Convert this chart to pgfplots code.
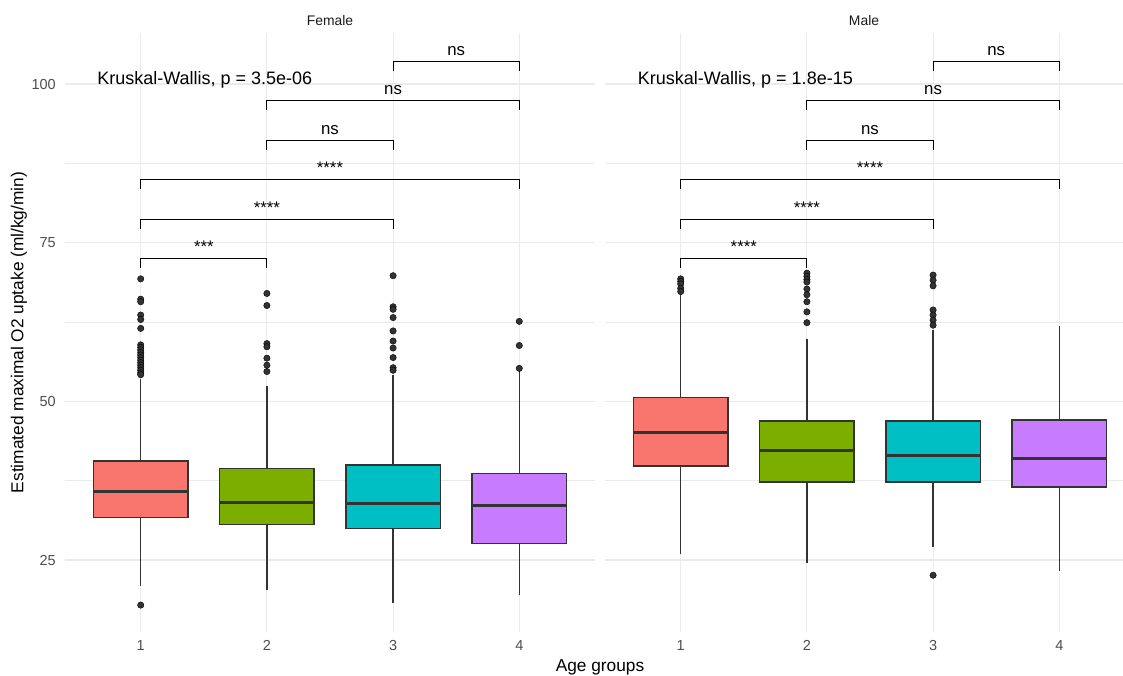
\documentclass[border=0pt]{standalone}
\usepackage{pgfplots}
\pgfplotsset{compat=1.18}
\usepgfplotslibrary{statistics}
\usepackage{fontspec}
\setmainfont{Liberation Sans}
\definecolor{c1}{HTML}{F8766D}
\definecolor{c2}{HTML}{7CAE00}
\definecolor{c3}{HTML}{00BFC4}
\definecolor{c4}{HTML}{C77CFF}
\definecolor{gridc}{HTML}{EBEBEB}
\definecolor{boxc}{HTML}{333333}
\definecolor{tickc}{HTML}{4D4D4D}
\newcommand{\bigf}{\fontsize{17.3}{20}\selectfont}
\newcommand{\kwf}{\fontsize{18}{21}\selectfont}
\newcommand{\labf}{\fontsize{16.8}{20}\selectfont}
\newcommand{\smallf}{\fontsize{14.5}{17}\selectfont}
\newcommand{\stripf}{\fontsize{13.9}{16}\selectfont}
\pgfplotsset{
  panel/.style={
    scale only axis, height=599pt,
    ymin=13.66, ymax=108.04, xmin=0.4,
    axis line style={draw=none}, major tick length=0pt, minor tick length=0pt,
    xtick={1,2,3,4}, ytick={25,50,75,100}, minor ytick={37.5,62.5,87.5},
    xmajorgrids, ymajorgrids, yminorgrids,
    major grid style={gridc, line width=1.1pt},
    minor grid style={gridc, line width=0.6pt},
    tick label style={font=\smallf, text=tickc},
    /pgf/number format/assume math mode=true,
    xticklabel style={anchor=base, yshift=-18pt, inner sep=0pt},
    yticklabel style={anchor=east, inner sep=0pt, xshift=-9pt},
    boxplot/draw direction=y,
    boxplot/box extend=0.75, boxplot/whisker extend=0,
    title style={at={(0.5,1)}, anchor=base, yshift=1pt, font=\stripf, text=black!90},
    clip=false,
    anchor=south west,
  },
  bx/.style={draw=boxc, line width=1.5pt, fill=#1,
    boxplot/every median/.style={line width=3.2pt, draw=boxc},
    boxplot/every whisker/.style={line width=1.5pt, draw=boxc},
    boxplot/every box/.style={line width=1.5pt, draw=boxc, fill=#1}},
  outl/.style={only marks, mark=*, mark size=3.2pt, mark options={fill=boxc, draw=none}},
  br/.style={black, line width=1pt},
}
\begin{document}
\begin{tikzpicture}
\useasboundingbox (0,0) rectangle (1123pt,675pt);
% ---------------- Female ----------------
\begin{axis}[panel, at={(65pt,43pt)}, width=530pt, xmax=4.6, title={Female},
  ylabel={Estimated maximal O2 uptake (ml/kg/min)},
  ylabel style={at={(axis description cs:-0.0868,0.5)}, anchor=center, font=\bigf}]
\addplot[bx=c1, boxplot prepared={draw position=1, median=35.8, upper quartile=40.6, lower quartile=31.7, upper whisker=53.6, lower whisker=20.9}] coordinates {};
\addplot[bx=c2, boxplot prepared={draw position=2, median=34.1, upper quartile=39.4, lower quartile=30.6, upper whisker=52.4, lower whisker=20.3}] coordinates {};
\addplot[bx=c3, boxplot prepared={draw position=3, median=33.9, upper quartile=40.0, lower quartile=30.0, upper whisker=54.2, lower whisker=18.3}] coordinates {};
\addplot[bx=c4, boxplot prepared={draw position=4, median=33.6, upper quartile=38.6, lower quartile=27.6, upper whisker=55.0, lower whisker=19.5}] coordinates {};
\addplot[outl] coordinates {
 (1,17.9) (1,69.3) (1,66.1) (1,65.7) (1,63.6) (1,62.9) (1,61.5)
 (1,58.9) (1,58.5) (1,58.1) (1,57.7) (1,57.3) (1,56.9) (1,56.5) (1,56.1) (1,55.7) (1,55.3) (1,54.9) (1,54.5) (1,54.2)
 (2,67.0) (2,65.1) (2,59.1) (2,58.6) (2,56.8) (2,55.7) (2,54.7)
 (3,69.8) (3,64.9) (3,64.5) (3,63.2) (3,61.1) (3,59.5) (3,58.4) (3,56.9) (3,55.3) (3,54.9)
 (4,62.6) (4,58.8) (4,55.2)
};
\addplot[br] coordinates {(1,71.0) (1,72.5) (2,72.5) (2,71.0)};
\addplot[br] coordinates {(1,77.1) (1,78.7) (3,78.7) (3,77.1)};
\addplot[br] coordinates {(1,83.4) (1,85.0) (4,85.0) (4,83.4)};
\addplot[br] coordinates {(2,89.6) (2,91.1) (3,91.1) (3,89.6)};
\addplot[br] coordinates {(2,95.9) (2,97.4) (4,97.4) (4,95.9)};
\addplot[br] coordinates {(3,102.0) (3,103.6) (4,103.6) (4,102.0)};
\node[anchor=base, yshift=6pt, font=\labf] at (axis cs:1.5,72.5) {***};
\node[anchor=base, yshift=6pt, font=\labf] at (axis cs:2,78.7) {****};
\node[anchor=base, yshift=6pt, font=\labf] at (axis cs:2.5,85.0) {****};
\node[anchor=base, yshift=6pt, font=\labf] at (axis cs:2.5,91.1) {ns};
\node[anchor=base, yshift=6pt, font=\labf] at (axis cs:3,97.4) {ns};
\node[anchor=base, yshift=6pt, font=\labf] at (axis cs:3.5,103.6) {ns};
\node[anchor=base west, inner sep=0pt, font=\kwf] at (axis cs:0.654,99.85) {Kruskal-Wallis, p = 3.5e-06};
\end{axis}
% ---------------- Male ----------------
\begin{axis}[panel, at={(605pt,43pt)}, width=518pt, xmax=4.505, title={Male}, yticklabels={}]
\addplot[bx=c1, boxplot prepared={draw position=1, median=45.1, upper quartile=50.6, lower quartile=39.8, upper whisker=66.7, lower whisker=25.9}] coordinates {};
\addplot[bx=c2, boxplot prepared={draw position=2, median=42.3, upper quartile=46.9, lower quartile=37.3, upper whisker=59.8, lower whisker=24.5}] coordinates {};
\addplot[bx=c3, boxplot prepared={draw position=3, median=41.5, upper quartile=46.9, lower quartile=37.3, upper whisker=61.2, lower whisker=27.1}] coordinates {};
\addplot[bx=c4, boxplot prepared={draw position=4, median=41.0, upper quartile=47.1, lower quartile=36.5, upper whisker=61.9, lower whisker=23.3}] coordinates {};
\addplot[outl] coordinates {
 (1,69.3) (1,68.9) (1,68.5) (1,67.8) (1,67.3)
 (2,70.2) (2,69.7) (2,69.2) (2,68.8) (2,67.7) (2,66.8) (2,65.7) (2,64.1) (2,62.4)
 (3,69.9) (3,69.1) (3,68.2) (3,64.4) (3,63.6) (3,62.8) (3,62.0) (3,22.6)
};
\addplot[br] coordinates {(1,71.0) (1,72.5) (2,72.5) (2,71.0)};
\addplot[br] coordinates {(1,77.1) (1,78.7) (3,78.7) (3,77.1)};
\addplot[br] coordinates {(1,83.4) (1,85.0) (4,85.0) (4,83.4)};
\addplot[br] coordinates {(2,89.6) (2,91.1) (3,91.1) (3,89.6)};
\addplot[br] coordinates {(2,95.9) (2,97.4) (4,97.4) (4,95.9)};
\addplot[br] coordinates {(3,102.0) (3,103.6) (4,103.6) (4,102.0)};
\node[anchor=base, yshift=6pt, font=\labf] at (axis cs:1.5,72.5) {****};
\node[anchor=base, yshift=6pt, font=\labf] at (axis cs:2,78.7) {****};
\node[anchor=base, yshift=6pt, font=\labf] at (axis cs:2.5,85.0) {****};
\node[anchor=base, yshift=6pt, font=\labf] at (axis cs:2.5,91.1) {ns};
\node[anchor=base, yshift=6pt, font=\labf] at (axis cs:3,97.4) {ns};
\node[anchor=base, yshift=6pt, font=\labf] at (axis cs:3.5,103.6) {ns};
\node[anchor=base west, inner sep=0pt, font=\kwf] at (axis cs:0.659,99.85) {Kruskal-Wallis, p = 1.8e-15};
\end{axis}
\node[anchor=base, font=\bigf] at (600pt,4pt) {Age groups};
\end{tikzpicture}
\end{document}
